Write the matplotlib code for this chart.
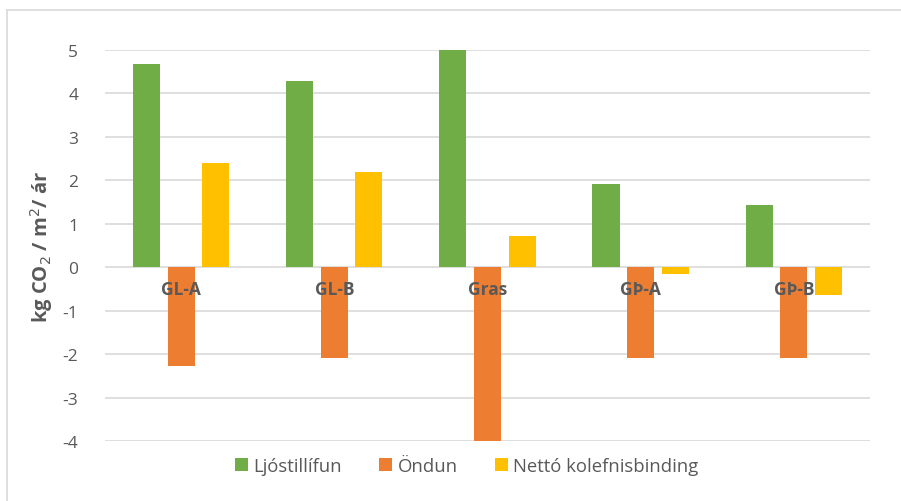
import matplotlib
matplotlib.use("Agg")
import matplotlib.pyplot as plt
import numpy as np
from matplotlib.lines import Line2D

categories = ["GL-A", "GL-B", "Gras", "GÞ-A", "GÞ-B"]
series_names = ["Ljóstillífun", "Öndun", "Nettó kolefnisbinding"]
ljostillifun = [4.68, 4.29, 5.0, 1.92, 1.43]
ondun = [-2.28, -2.10, -4.03, -2.08, -2.08]
netto = [2.40, 2.19, 0.72, -0.16, -0.65]
yticks = [-4, -3, -2, -1, 0, 1, 2, 3, 4, 5]

colors = ["#70AD47", "#ED7D31", "#FFC000"]
txt = "#595959"
plt.rcParams['font.family'] = ['Open Sans', 'DejaVu Sans']

fig = plt.figure(figsize=(9.01, 5.02), dpi=100)
# chart-area border (left and top edges visible)
fig.lines.append(Line2D([0.008, 0.008], [0.0, 0.978], transform=fig.transFigure,
                        color="#D9D9D9", lw=1.2))
fig.lines.append(Line2D([0.008, 1.0], [0.978, 0.978], transform=fig.transFigure,
                        color="#D9D9D9", lw=1.2))
ax = fig.add_axes([0.116, 0.1195, 0.850, 0.779])

x = np.arange(len(categories))
step = 0.226
width = 0.177
for k, (vals, name) in enumerate(zip([ljostillifun, ondun, netto], series_names)):
    ax.bar(x + (k - 1) * step, vals, width, color=colors[k], label=name, zorder=2)

ax.set_xlim(-0.5, len(categories) - 0.5)
ax.set_ylim(-4, 5)
ax.set_yticks(yticks)
ax.set_yticklabels([str(t) for t in yticks], color=txt, fontsize=12.5)
ax.tick_params(axis='y', length=0, pad=19)
ax.set_xticks([])
ax.yaxis.grid(True, color="#D9D9D9", lw=1.2, zorder=0)
ax.set_axisbelow(True)
for s in ax.spines.values():
    s.set_visible(False)

for i, c in enumerate(categories):
    ax.text(i, -0.5, c, ha='center', va='center', fontsize=12.5, fontweight='bold',
            color=txt, zorder=3)

ax.set_ylabel("kg CO$_2$ / m$^2$/ ár", fontsize=14.5, fontweight='bold', color=txt, labelpad=5)

fig.legend(loc='center', bbox_to_anchor=(0.518, 0.07), ncol=3, frameon=False,
           fontsize=13.3, handlelength=0.7, handleheight=0.7, handletextpad=0.3,
           columnspacing=2.0, labelcolor=txt)

fig.savefig("out.png", dpi=100)
